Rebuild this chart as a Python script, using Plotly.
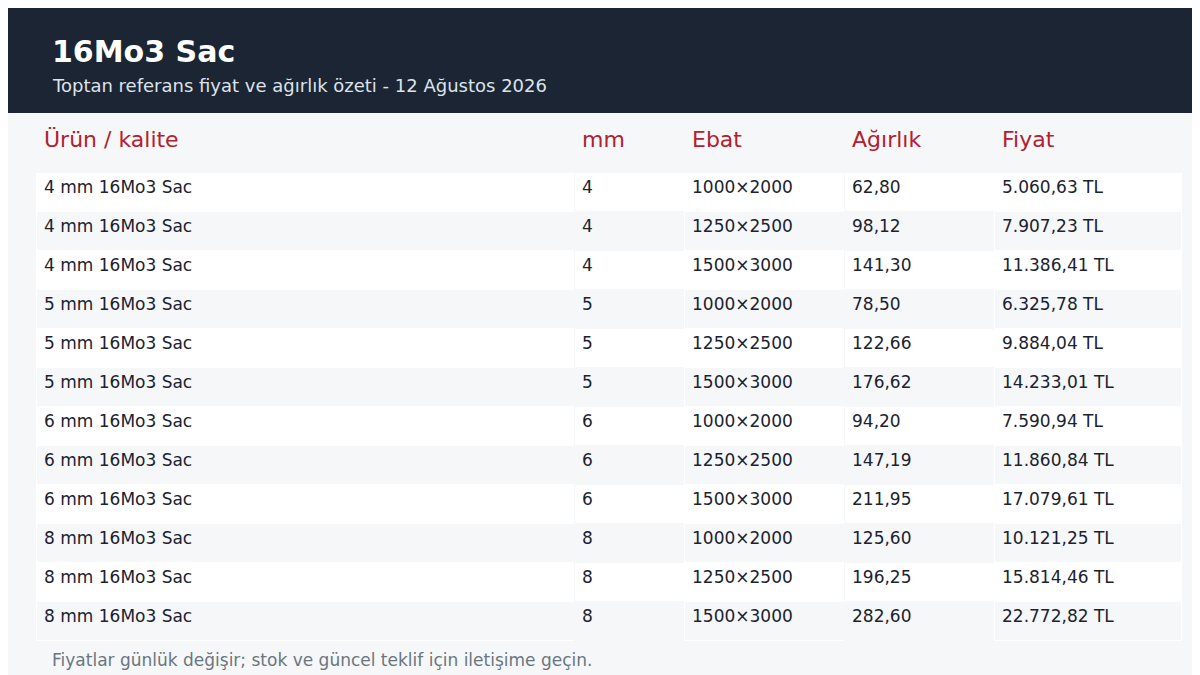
import plotly.graph_objects as go

title = "16Mo3 Sac"
subtitle = "Toptan referans fiyat ve ağırlık özeti - 12 Ağustos 2026"
footnote = "Fiyatlar günlük değişir; stok ve güncel teklif için iletişime geçin."
headers = ["Ürün / kalite", "mm", "Ebat", "Ağırlık", "Fiyat"]
products = ["4 mm 16Mo3 Sac"]*3 + ["5 mm 16Mo3 Sac"]*3 + ["6 mm 16Mo3 Sac"]*3 + ["8 mm 16Mo3 Sac"]*3
mm = ["4"]*3 + ["5"]*3 + ["6"]*3 + ["8"]*3
sizes = ["1000×2000", "1250×2500", "1500×3000"]*4
weights = ["62,80", "98,12", "141,30", "78,50", "122,66", "176,62", "94,20", "147,19", "211,95", "125,60", "196,25", "282,60"]
prices = ["5.060,63 TL", "7.907,23 TL", "11.386,41 TL", "6.325,78 TL", "9.884,04 TL", "14.233,01 TL",
          "7.590,94 TL", "11.860,84 TL", "17.079,61 TL", "10.121,25 TL", "15.814,46 TL", "22.772,82 TL"]

W, H = 1200, 675
bg = "#f5f7f9"
rowfill = ["#ffffff" if i % 2 == 0 else bg for i in range(len(products))]

fig = go.Figure(go.Table(
    domain=dict(x=[28/W, 1173/W], y=[0.05, 1-114/H]),
    columnwidth=[538, 110, 160, 150, 187],
    header=dict(values=headers, fill_color=bg, line_color=bg, height=50, align="left",
                font=dict(family="DejaVu Sans", size=22, color="#b3202f")),
    cells=dict(values=[products, mm, sizes, weights, prices], fill_color=[rowfill]*5,
               line_color=rowfill, height=39, align="left",
               font=dict(family="DejaVu Sans", size=17, color="#1b2230")),
))
fig.update_layout(
    width=W, height=H, margin=dict(l=0, r=0, t=0, b=0), paper_bgcolor=bg,
    shapes=[dict(type="rect", xref="paper", yref="paper", x0=0, x1=1, y0=1-105/H, y1=1,
                 fillcolor="#1b2533", line_width=0, layer="below")],
    annotations=[
        dict(text=f"<b>{title}</b>", x=42/W, y=1-43/H, xref="paper", yref="paper", xanchor="left", yanchor="middle",
             showarrow=False, font=dict(family="DejaVu Sans", size=30, color="white")),
        dict(text=subtitle, x=42/W, y=1-78/H, xref="paper", yref="paper", xanchor="left", yanchor="middle",
             showarrow=False, font=dict(family="DejaVu Sans", size=18, color="#dde3ea")),
        dict(text=footnote, x=42/W, y=1-652/H, xref="paper", yref="paper", xanchor="left", yanchor="middle",
             showarrow=False, font=dict(family="DejaVu Sans", size=17, color="#6b7580")),
    ],
)
fig.write_html("out.html")
